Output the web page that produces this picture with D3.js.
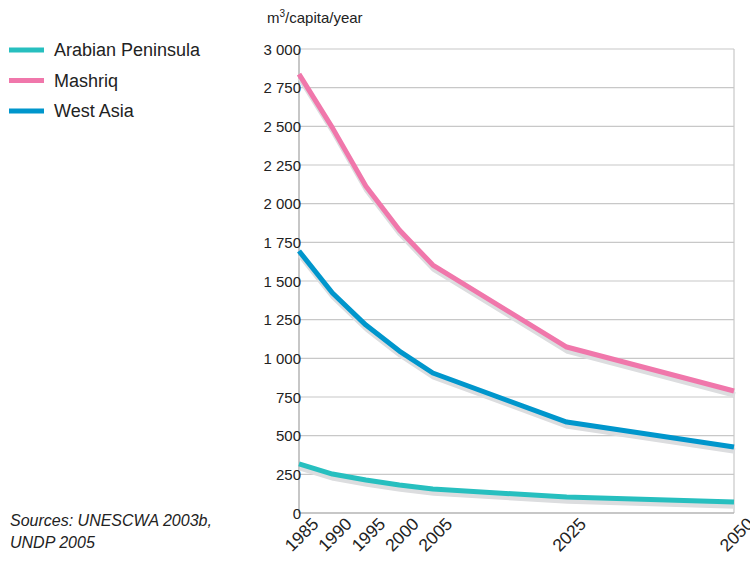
<!DOCTYPE html>
<html>
<head>
<meta charset="utf-8">
<script src="https://cdn.jsdelivr.net/npm/d3@7"></script>
<style>
  html, body { margin: 0; padding: 0; background: #fff; }
  svg text { font-family: "Liberation Sans", Arial, sans-serif; fill: #222; }
</style>
</head>
<body>
<svg id="chart" width="750" height="571"></svg>
<script>
// Renewable water resources per capita (m³/capita/year)
const years = [1985, 1990, 1995, 2000, 2005, 2025, 2050];
const arabianPeninsula = [317, 252, 213, 181, 155, 103, 71];
const mashriq = [2838, 2490, 2112, 1830, 1603, 1073, 789];
const westAsia = [1694, 1422, 1215, 1047, 905, 588, 427];
const seriesNames = ["Arabian Peninsula", "Mashriq", "West Asia"];
const seriesColors = ["#27bfbf", "#f077ab", "#0096cc"];
const yTicks = [0, 250, 500, 750, 1000, 1250, 1500, 1750, 2000, 2250, 2500, 2750, 3000];
const unitLabel = "/capita/year";
const sourceLines = ["Sources: UNESCWA 2003b,", "UNDP 2005"];

const series = [arabianPeninsula, mashriq, westAsia].map((vals, i) => ({
  name: seriesNames[i], color: seriesColors[i],
  points: years.map((y, j) => ({ year: y, value: vals[j] }))
}));

const svg = d3.select("#chart");
const x = d3.scaleLinear().domain([1985, 2050]).range([299, 734]);
const y = d3.scaleLinear().domain([0, 3000]).range([513, 49]);

// Horizontal grid
svg.append("g").selectAll("line").data(yTicks.slice(1)).join("line")
  .attr("x1", x(1985)).attr("x2", x(2050))
  .attr("y1", d => y(d)).attr("y2", d => y(d))
  .attr("stroke", "#c8c8c8").attr("stroke-width", 1.2);

// Frame: left, bottom, right
svg.append("line").attr("x1", x(1985)).attr("x2", x(1985)).attr("y1", y(3000)).attr("y2", y(0))
  .attr("stroke", "#b4b4b4").attr("stroke-width", 1.5);
svg.append("line").attr("x1", x(2050)).attr("x2", x(2050)).attr("y1", y(3000)).attr("y2", y(0))
  .attr("stroke", "#c8c8c8").attr("stroke-width", 1.2);
svg.append("line").attr("x1", x(1985)).attr("x2", x(2050)).attr("y1", y(0)).attr("y2", y(0))
  .attr("stroke", "#b4b4b4").attr("stroke-width", 1.5);

// Y axis labels (space as thousands separator)
const yAxis = d3.axisLeft(y).tickValues(yTicks).tickSize(0).tickPadding(0)
  .tickFormat(v => v >= 1000 ? d3.format(",")(v).replace(",", " ") : String(v));
const gy = svg.append("g").attr("transform", `translate(${x(1985) + 2},0)`).call(yAxis);
gy.select(".domain").remove();
gy.selectAll("text").style("font-size", "15px").attr("fill", "#222").attr("dy", "0.35em");

// X axis labels, rotated
const xAxis = d3.axisBottom(x).tickValues(years).tickSize(0).tickPadding(0).tickFormat(d3.format("d"));
const gx = svg.append("g").attr("transform", `translate(0,${y(0)})`).call(xAxis);
gx.select(".domain").remove();
gx.selectAll("text").style("font-size", "17.5px").attr("fill", "#222")
  .attr("text-anchor", "end").attr("dy", null).attr("y", 0)
  .attr("transform", "translate(11,3) rotate(-45)").attr("dominant-baseline", "hanging");

// Lines with soft grey shadow
const line = d3.line().x(d => x(d.year)).y(d => y(d.value));
const g = svg.append("g");
series.forEach(s => {
  g.append("path").datum(s.points).attr("d", line)
    .attr("transform", "translate(1,4)")
    .attr("fill", "none").attr("stroke", "#dcdddf").attr("stroke-width", 5.5)
    .attr("stroke-linejoin", "round");
});
series.forEach(s => {
  g.append("path").datum(s.points).attr("d", line)
    .attr("fill", "none").attr("stroke", s.color).attr("stroke-width", 5)
    .attr("stroke-linejoin", "round");
});

// Legend
const leg = svg.append("g").selectAll("g").data(series).join("g")
  .attr("transform", (d, i) => `translate(9,${50 + i * 30.5})`);
leg.append("line").attr("x1", 0).attr("x2", 35).attr("y1", 0).attr("y2", 0)
  .attr("stroke", d => d.color).attr("stroke-width", 5);
leg.append("text").attr("x", 45).attr("y", 0).attr("dy", "0.35em")
  .style("font-size", "18px").text(d => d.name);

// Unit label
const ul = svg.append("text").attr("x", 267).attr("y", 23).style("font-size", "15px");
ul.append("tspan").text("m");
ul.append("tspan").attr("dy", -6).style("font-size", "10px").text("3");
ul.append("tspan").attr("dy", 6).text(unitLabel);

// Sources
svg.append("g").selectAll("text").data(sourceLines).join("text")
  .attr("x", 10).attr("y", (d, i) => 526 + i * 22)
  .style("font-size", "16px").style("font-style", "italic").text(d => d);
</script>
</body>
</html>
